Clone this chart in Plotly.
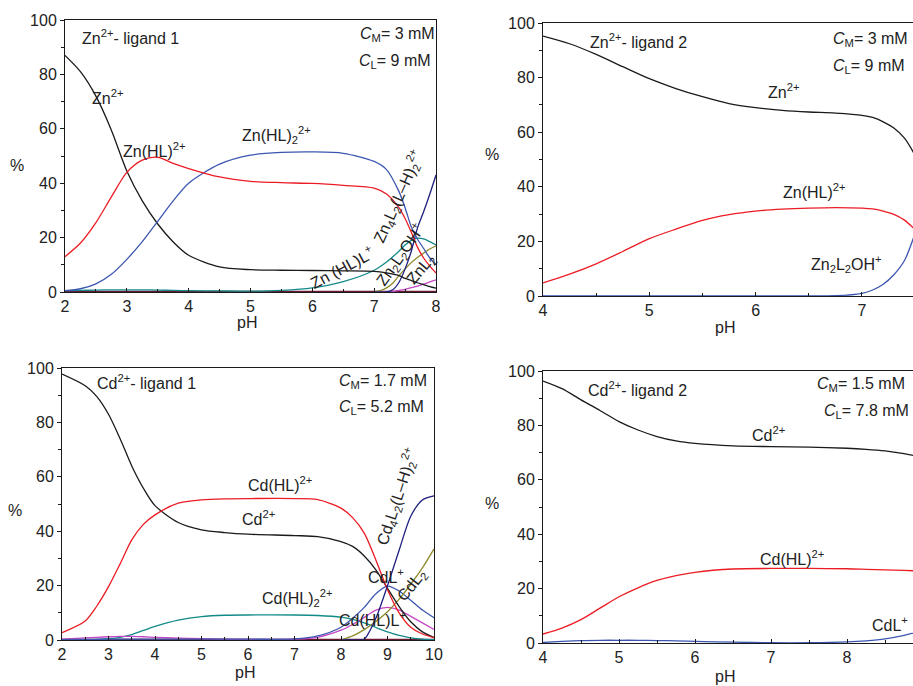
import plotly.graph_objects as go

# ---------------- DATA ----------------
# Panel A: Zn2+ - ligand 1
ph_zn1 = [2.0, 2.25, 2.5, 2.75, 3.0, 3.25, 3.5, 3.75, 4.0, 4.5, 5.0, 5.5, 6.0, 6.5, 7.0, 7.2, 7.4, 7.5, 7.6, 7.7, 7.8, 7.9, 8.0]
zn1_zn = [87, 81, 72, 59.5, 44.5, 33.5, 25, 18.4, 13.5, 9.2, 8.2, 8.0, 7.9, 7.8, 7.6, 7.0, 6.0, 5.0, 4.2, 3.4, 2.7, 2.0, 1.4]
zn1_znhl = [13, 18, 25.5, 35, 44, 48.5, 49.5, 47.3, 45.4, 42.3, 40.7, 40.2, 39.9, 39.2, 38.2, 36, 31, 27, 22, 16.5, 12.5, 9.5, 7.0]
zn1_znhl2 = [0.5, 1.2, 3, 6.5, 12, 18.5, 26, 33.5, 40, 47, 50.3, 51.3, 51.5, 51, 48, 45, 37, 31, 24, 19.5, 16, 12.5, 10]
zn1_znhll = [0.5, 0.6, 0.7, 0.8, 0.8, 0.8, 0.7, 0.6, 0.5, 0.4, 0.3, 0.6, 1.5, 3.8, 8, 11, 15, 17.3, 19, 19.8, 19.5, 18.5, 17.3]
ph_zn1_hi = [7.0, 7.1, 7.2, 7.3, 7.4, 7.5, 7.6, 7.7, 7.8, 7.9, 8.0]
zn1_zn4 = [0, 0, 0, 0.8, 3.5, 8.5, 15, 23.5, 29.5, 36, 43]
zn1_zn2oh = [0, 0.5, 1.5, 3.2, 6, 8.5, 10.8, 12.7, 14.3, 15.8, 17]
zn1_znl2 = [0, 0, 0, 0.2, 0.6, 1.0, 1.6, 2.2, 2.9, 3.7, 4.5]
ph_base1 = [2.0, 4.0, 6.0, 8.0]
zn1_base = [0.2, 0.2, 0.2, 0.2]

# Panel B: Zn2+ - ligand 2
ph_zn2 = [4.0, 4.25, 4.5, 4.75, 5.0, 5.25, 5.5, 5.75, 6.0, 6.25, 6.5, 6.75, 7.0, 7.1, 7.2, 7.3, 7.4, 7.5]
zn2_zn = [95.2, 92.4, 88.5, 84, 79.6, 76, 73, 70.5, 69, 68, 67.4, 67, 66.2, 65.4, 63.8, 61.5, 57.8, 51.5]
zn2_znhl = [4.8, 8, 11.8, 16.3, 21, 24.5, 27.7, 29.8, 31.1, 31.8, 32.2, 32.4, 32.2, 31.9, 31.1, 29.9, 27.8, 24.3]
zn2_zn2oh = [0, 0, 0, 0, 0, 0, 0, 0, 0, 0, 0, 0.1, 1, 2.2, 4.3, 7.8, 13, 23]

# Panel C: Cd2+ - ligand 1
ph_cd1 = [2.0, 2.5, 2.75, 3.0, 3.25, 3.5, 3.75, 4.0, 4.5, 5.0, 5.5, 6.0, 7.0, 7.5, 8.0, 8.25, 8.5, 8.75, 9.0, 9.25, 9.5, 9.75, 10.0]
cd1_cd = [97.8, 93.5, 89.5, 83.0, 74.0, 64.0, 55.8, 49.4, 43.2, 40.5, 39.5, 38.9, 38.4, 38, 36.2, 34.4, 30.9, 25.8, 19, 12.3, 6.7, 3, 0.9]
cd1_cdhl = [2.7, 7, 12.5, 19.6, 28, 36.8, 42.5, 46, 50.3, 51.5, 51.9, 52, 52, 51.6, 48.5, 45, 39.3, 29.4, 18.5, 10, 4.7, 2.2, 0.9]
cd1_cdhl2 = [0, 0.1, 0.2, 0.5, 1, 2, 3.5, 5, 7.3, 8.6, 9.1, 9.2, 9.2, 9, 8.4, 7.6, 6.3, 4.6, 3, 1.7, 0.8, 0.3, 0.1]
cd1_cdl = [0.1, 0.2, 0.25, 0.3, 0.3, 0.3, 0.3, 0.3, 0.3, 0.3, 0.3, 0.3, 0.4, 1.5, 4.7, 8, 12, 17, 19.8, 18, 14.6, 11, 8.2]
cd1_cdhll = [0.3, 0.8, 1.0, 1.2, 1.3, 1.3, 1.2, 1.0, 0.7, 0.5, 0.3, 0.2, 0.3, 1.0, 3.6, 5.7, 8.3, 11, 12, 11, 8.7, 6.3, 3.9]
ph_cd1_hi = [8.0, 8.25, 8.4, 8.5, 8.75, 9.0, 9.25, 9.5, 9.75, 10.0]
cd1_cd4 = [0, 0, 0, 0.3, 8, 20, 33, 45.5, 51.5, 53]
cd1_cdl2 = [0, 1.5, 2.8, 3.8, 6.8, 10.4, 15, 20.5, 26.5, 33.5]
ph_base2 = [2.0, 6.0, 10.0]
cd1_base = [0.2, 0.2, 0.2]

# Panel D: Cd2+ - ligand 2
ph_cd2 = [4.0, 4.25, 4.5, 4.75, 5.0, 5.25, 5.5, 5.75, 6.0, 6.5, 7.0, 7.5, 8.0, 8.25, 8.5, 8.75, 9.0]
cd2_cd = [96.3, 93.5, 89.4, 85.5, 81.4, 78.3, 75.9, 74.3, 73.4, 72.5, 72.2, 72, 71.6, 71.2, 70.6, 69.6, 68.3]
cd2_cdhl = [3.3, 5.5, 8.6, 12.8, 17, 20.3, 23, 24.8, 26, 27.2, 27.4, 27.4, 27.3, 27.1, 26.9, 26.7, 26.4]
cd2_cdl = [0.2, 0.6, 0.9, 1.0, 1.0, 1.0, 0.9, 0.8, 0.6, 0.3, 0.1, 0.1, 0.4, 0.8, 1.5, 2.8, 4.6]

y_ticks = [0, 20, 40, 60, 80, 100]

# ---------------- STYLE ----------------
W, H = 913, 686
FONT = "Liberation Sans, Arial, Helvetica, sans-serif"
BLACK = "#1a1a1a"
RED = "#ec1c24"
BLUE = "#3b56b0"
TEAL = "#138a8a"
NAVY = "#1f1f80"
OLIVE = "#8d8a2a"
MAGENTA = "#c448c4"
MAROON = "#6a1830"


def px(x):
    return x / W


def py(y):
    return 1 - y / H


fig = go.Figure()


def line(xs, ys, color, ax):
    fig.add_trace(go.Scatter(
        x=xs, y=ys, mode="lines", line=dict(color=color, width=1.3, shape="spline", smoothing=0.8),
        xaxis="x" + ax, yaxis="y" + ax, showlegend=False, hoverinfo="skip"))


# panel A
line(ph_base1, zn1_base, MAROON, "")
line(ph_zn1, zn1_znhll, TEAL, "")
line(ph_zn1_hi, zn1_znl2, MAGENTA, "")
line(ph_zn1_hi, zn1_zn2oh, OLIVE, "")
line(ph_zn1_hi, zn1_zn4, NAVY, "")
line(ph_zn1, zn1_zn, BLACK, "")
line(ph_zn1, zn1_znhl2, BLUE, "")
line(ph_zn1, zn1_znhl, RED, "")
# panel B
line(ph_zn2, zn2_zn, BLACK, "2")
line(ph_zn2, zn2_znhl, RED, "2")
line(ph_zn2, zn2_zn2oh, BLUE, "2")
# panel C
line(ph_base2, cd1_base, MAROON, "3")
line(ph_cd1, cd1_cdhl2, TEAL, "3")
line(ph_cd1, cd1_cdhll, MAGENTA, "3")
line(ph_cd1, cd1_cdl, BLUE, "3")
line(ph_cd1_hi, cd1_cdl2, OLIVE, "3")
line(ph_cd1, cd1_cd, BLACK, "3")
line(ph_cd1, cd1_cdhl, RED, "3")
line(ph_cd1_hi, cd1_cd4, NAVY, "3")
# panel D
line(ph_cd2, cd2_cd, BLACK, "4")
line(ph_cd2, cd2_cdhl, RED, "4")
line(ph_cd2, cd2_cdl, BLUE, "4")

tickfont = dict(family=FONT, size=16, color="#222")


def xaxis(dom, rng, dtick, anchor, mirror=True):
    return dict(domain=dom, range=rng, anchor=anchor, showgrid=False, zeroline=False,
                automargin=False,
                showline=True, linecolor=BLACK, linewidth=1, mirror=mirror,
                ticks="inside", ticklen=4, tickcolor=BLACK, dtick=dtick, tick0=0,
                minor=dict(ticks="inside", ticklen=3, dtick=dtick / 2, tickcolor=BLACK),
                tickfont=tickfont)


def yaxis(dom, anchor, mirror=True):
    return dict(domain=dom, range=[0, 100], anchor=anchor, showgrid=False, zeroline=False,
                automargin=False,
                showline=True, linecolor=BLACK, linewidth=1, mirror=mirror,
                ticks="outside", ticklen=4, tickcolor=BLACK, tickvals=y_ticks,
                minor=dict(ticks="outside", ticklen=3, dtick=10, tickcolor=BLACK),
                tickfont=tickfont)


fig.update_layout(
    template="none",
    width=W, height=H, margin=dict(l=0, r=0, t=0, b=0, pad=0, autoexpand=False),
    paper_bgcolor="white", plot_bgcolor="white",
    xaxis=xaxis([px(65), px(436)], [2, 8], 1, "y"),
    yaxis=yaxis([py(292), py(20)], "x"),
    xaxis2=xaxis([px(543), 1.0], [4, 7.48], 1, "y2"),
    yaxis2=yaxis([py(296), py(23)], "x2", mirror=False),
    xaxis3=xaxis([px(62), px(434)], [2, 10], 1, "y3"),
    yaxis3=yaxis([py(640), py(368)], "x3"),
    xaxis4=xaxis([px(543), 1.0], [4, 8.868], 1, "y4"),
    yaxis4=yaxis([py(643), py(371)], "x4", mirror=False),
)

anns = []


def ann(text, x, y, xa="center", angle=0, size=16):
    anns.append(dict(text=text, x=px(x), y=py(y), xref="paper", yref="paper",
                     xanchor=xa, yanchor="middle", showarrow=False, textangle=angle,
                     font=dict(family=FONT, size=size, color="#222")))


# axis titles
for (x, y) in [(17, 165), (492, 155), (15, 510), (492, 503)]:
    ann("%", x, y)
for (x, y) in [(247, 322), (725, 327), (245, 672), (725, 676)]:
    ann("pH", x, y)

# panel A texts
ann("Zn<sup>2+</sup>- ligand 1", 80, 37, "left")
ann("<i>C</i><sub>M</sub>= 3 mM", 437, 34, "right")
ann("<i>C</i><sub>L</sub>= 9 mM", 433, 61, "right")
ann("Zn<sup>2+</sup>", 107, 97)
ann("Zn(HL)<sup>2+</sup>", 154, 150)
ann("Zn(HL)<sub>2</sub><sup>2+</sup>", 276, 135)
ann("Zn (HL)L<sup>+</sup>", 342, 267, angle=-28)
ann("Zn<sub>4</sub>L<sub>2</sub>(L\u2013H)<sub>2</sub><sup>2+</sup>", 398, 197, angle=-66)
ann("Zn<sub>2</sub>L<sub>2</sub>OH<sup>+</sup>", 400, 255, angle=-55)
ann("ZnL<sub>2</sub>", 421, 269, angle=-50)

# panel B texts
ann("Zn<sup>2+</sup>- ligand 2", 588, 41, "left")
ann("<i>C</i><sub>M</sub>= 3 mM", 910, 39, "right")
ann("<i>C</i><sub>L</sub>= 9 mM", 907, 66, "right")
ann("Zn<sup>2+</sup>", 783, 91)
ann("Zn(HL)<sup>2+</sup>", 814, 191)
ann("Zn<sub>2</sub>L<sub>2</sub>OH<sup>+</sup>", 846, 264)

# panel C texts
ann("Cd<sup>2+</sup>- ligand 1", 95, 382, "left")
ann("<i>C</i><sub>M</sub>= 1.7 mM", 429, 381, "right")
ann("<i>C</i><sub>L</sub>= 5.2 mM", 426, 407, "right")
ann("Cd(HL)<sup>2+</sup>", 280, 484)
ann("Cd<sup>2+</sup>", 258, 518)
ann("Cd(HL)<sub>2</sub><sup>2+</sup>", 297, 598)
ann("CdL<sup>+</sup>", 386, 576)
ann("Cd(HL)L<sup>+</sup>", 372, 619)
ann("Cd<sub>4</sub>L<sub>2</sub>(L\u2013H)<sub>2</sub><sup>2+</sup>", 397, 497, angle=-72)
ann("CdL<sub>2</sub>", 412, 585, angle=-52)

# panel D texts
ann("Cd<sup>2+</sup>- ligand 2", 586, 389, "left")
ann("<i>C</i><sub>M</sub>= 1.5 mM", 907, 384, "right")
ann("<i>C</i><sub>L</sub>= 7.8 mM", 911, 412, "right")
ann("Cd<sup>2+</sup>", 768, 434)
ann("Cd(HL)<sup>2+</sup>", 792, 558)
ann("CdL<sup>+</sup>", 890, 624)

fig.update_layout(annotations=anns)
fig.write_html("out.html",
               config={"displayModeBar": False},
               post_script="document.body.style.margin='0';document.body.style.overflow='hidden';")
